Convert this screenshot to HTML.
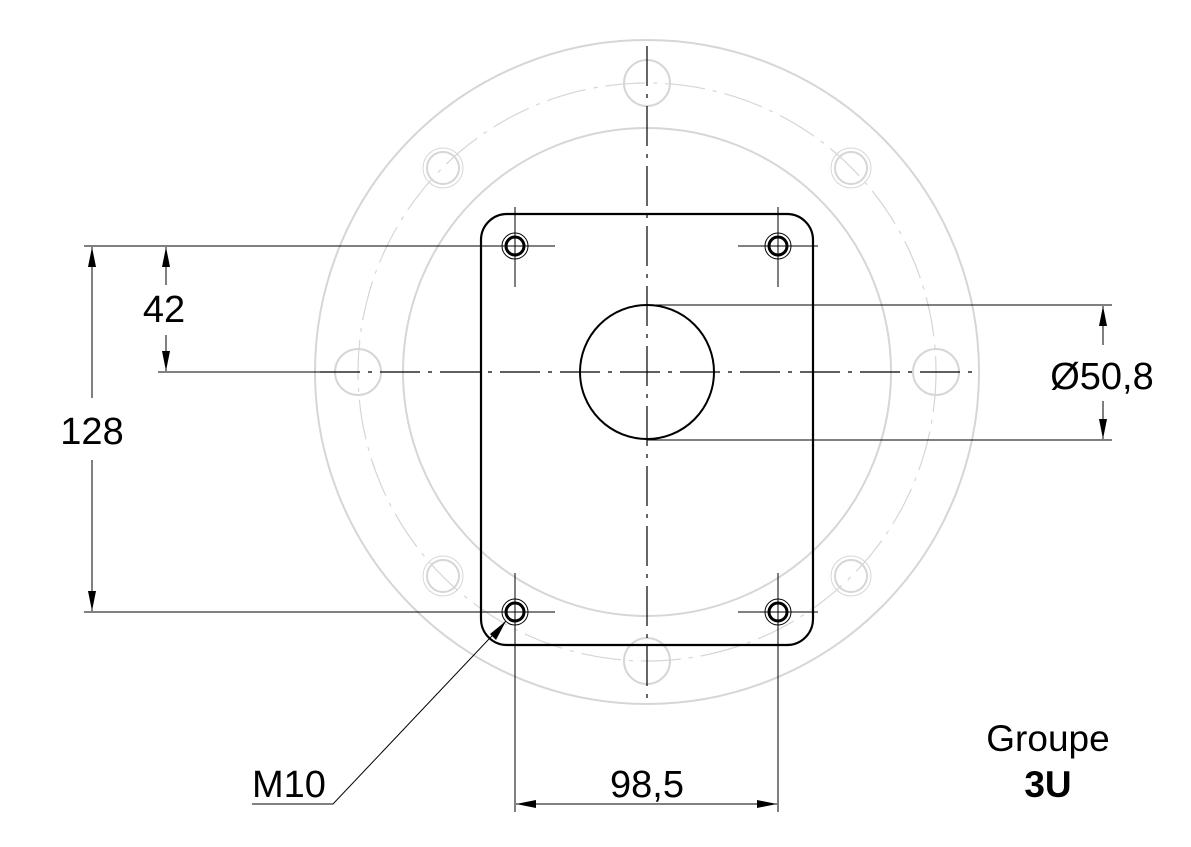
<!DOCTYPE html>
<html><head><meta charset="utf-8"><style>html,body{margin:0;padding:0;background:#fff}</style></head>
<body>
<svg width="1191" height="842" viewBox="0 0 1191 842" xmlns="http://www.w3.org/2000/svg">
<defs>
<marker id="a" viewBox="0 0 20 8" refX="20" refY="4" markerWidth="20" markerHeight="8" markerUnits="userSpaceOnUse" orient="auto"><path d="M0,0 L20,4 L0,8 z" fill="#000"/></marker>
</defs>
<g fill="none" stroke="#d6d6d6" stroke-width="2">
<circle cx="647" cy="372" r="332"/>
<circle cx="647" cy="372" r="244"/>
<circle cx="647" cy="372" r="289" stroke-width="1.2" stroke-dasharray="40 8 4 8"/>
<circle cx="647" cy="83" r="23"/>
<circle cx="647" cy="661" r="23"/>
<circle cx="358" cy="372" r="23"/>
<circle cx="936" cy="372" r="23"/>
<circle cx="443" cy="168" r="16"/><circle cx="443" cy="168" r="20" stroke-width="1"/>
<circle cx="851" cy="168" r="16"/><circle cx="851" cy="168" r="20" stroke-width="1"/>
<circle cx="443" cy="576" r="16"/><circle cx="443" cy="576" r="20" stroke-width="1"/>
<circle cx="851" cy="576" r="16"/><circle cx="851" cy="576" r="20" stroke-width="1"/>
</g>
<g stroke="#000" stroke-width="1.2" fill="none">
<line x1="647" y1="46" x2="647" y2="700" stroke-dasharray="40 8 4 8"/>
<line x1="320" y1="372" x2="975" y2="372" stroke-dasharray="40 8 4 8"/>
</g>
<rect x="481" y="214" width="332" height="431" rx="26" fill="none" stroke="#000" stroke-width="2.2"/>
<circle cx="647" cy="372" r="67" fill="none" stroke="#000" stroke-width="2"/>
<g fill="none" stroke="#000">
<g stroke-width="3"><circle cx="515" cy="246" r="9"/><circle cx="778" cy="246" r="9"/><circle cx="515" cy="612" r="9"/><circle cx="778" cy="612" r="9"/></g>
<g stroke-width="1"><circle cx="515" cy="246" r="13"/><circle cx="778" cy="246" r="13"/><circle cx="515" cy="612" r="13"/><circle cx="778" cy="612" r="13"/></g>
<g stroke-width="1">
<line x1="515" y1="207" x2="515" y2="287"/><line x1="475" y1="246" x2="555" y2="246"/>
<line x1="778" y1="207" x2="778" y2="287"/><line x1="738" y1="246" x2="818" y2="246"/>
<line x1="515" y1="573" x2="515" y2="652"/><line x1="475" y1="612" x2="555" y2="612"/>
<line x1="778" y1="573" x2="778" y2="652"/><line x1="738" y1="612" x2="818" y2="612"/>
</g>
</g>
<g stroke="#000" stroke-width="1" fill="none">
<line x1="84" y1="246" x2="515" y2="246"/>
<line x1="84" y1="612" x2="515" y2="612"/>
<line x1="158" y1="372" x2="320" y2="372"/>
<line x1="92" y1="398" x2="92" y2="247" marker-end="url(#a)"/>
<line x1="92" y1="460" x2="92" y2="611" marker-end="url(#a)"/>
<line x1="166" y1="285" x2="166" y2="247" marker-end="url(#a)"/>
<line x1="166" y1="335" x2="166" y2="371" marker-end="url(#a)"/>
<line x1="647" y1="305" x2="1112" y2="305"/>
<line x1="647" y1="440" x2="1112" y2="440"/>
<line x1="1103" y1="345" x2="1103" y2="306" marker-end="url(#a)"/>
<line x1="1103" y1="401" x2="1103" y2="439" marker-end="url(#a)"/>
<line x1="515" y1="652" x2="515" y2="812"/>
<line x1="778" y1="652" x2="778" y2="812"/>
<line x1="600" y1="804" x2="516" y2="804" marker-end="url(#a)"/>
<line x1="600" y1="804" x2="777" y2="804" marker-end="url(#a)"/>
<polyline points="252,804 333,804 506,621"/>
</g>
<path d="M506,621 L496,640 L490,634 z" fill="#000"/>
<g font-family="Liberation Sans, Arial, sans-serif" font-size="38" fill="#000">
<text x="164" y="322" text-anchor="middle">42</text>
<text x="92" y="444" text-anchor="middle">128</text>
<text x="1102" y="389" text-anchor="middle">Ø50,8</text>
<text x="647" y="797" text-anchor="middle">98,5</text>
<text x="252" y="797">M10</text>
<text x="1048" y="751" text-anchor="middle" font-size="37">Groupe</text>
<text x="1048" y="797" text-anchor="middle" font-size="37" font-weight="bold">3U</text>
</g>
</svg>
</body></html>
